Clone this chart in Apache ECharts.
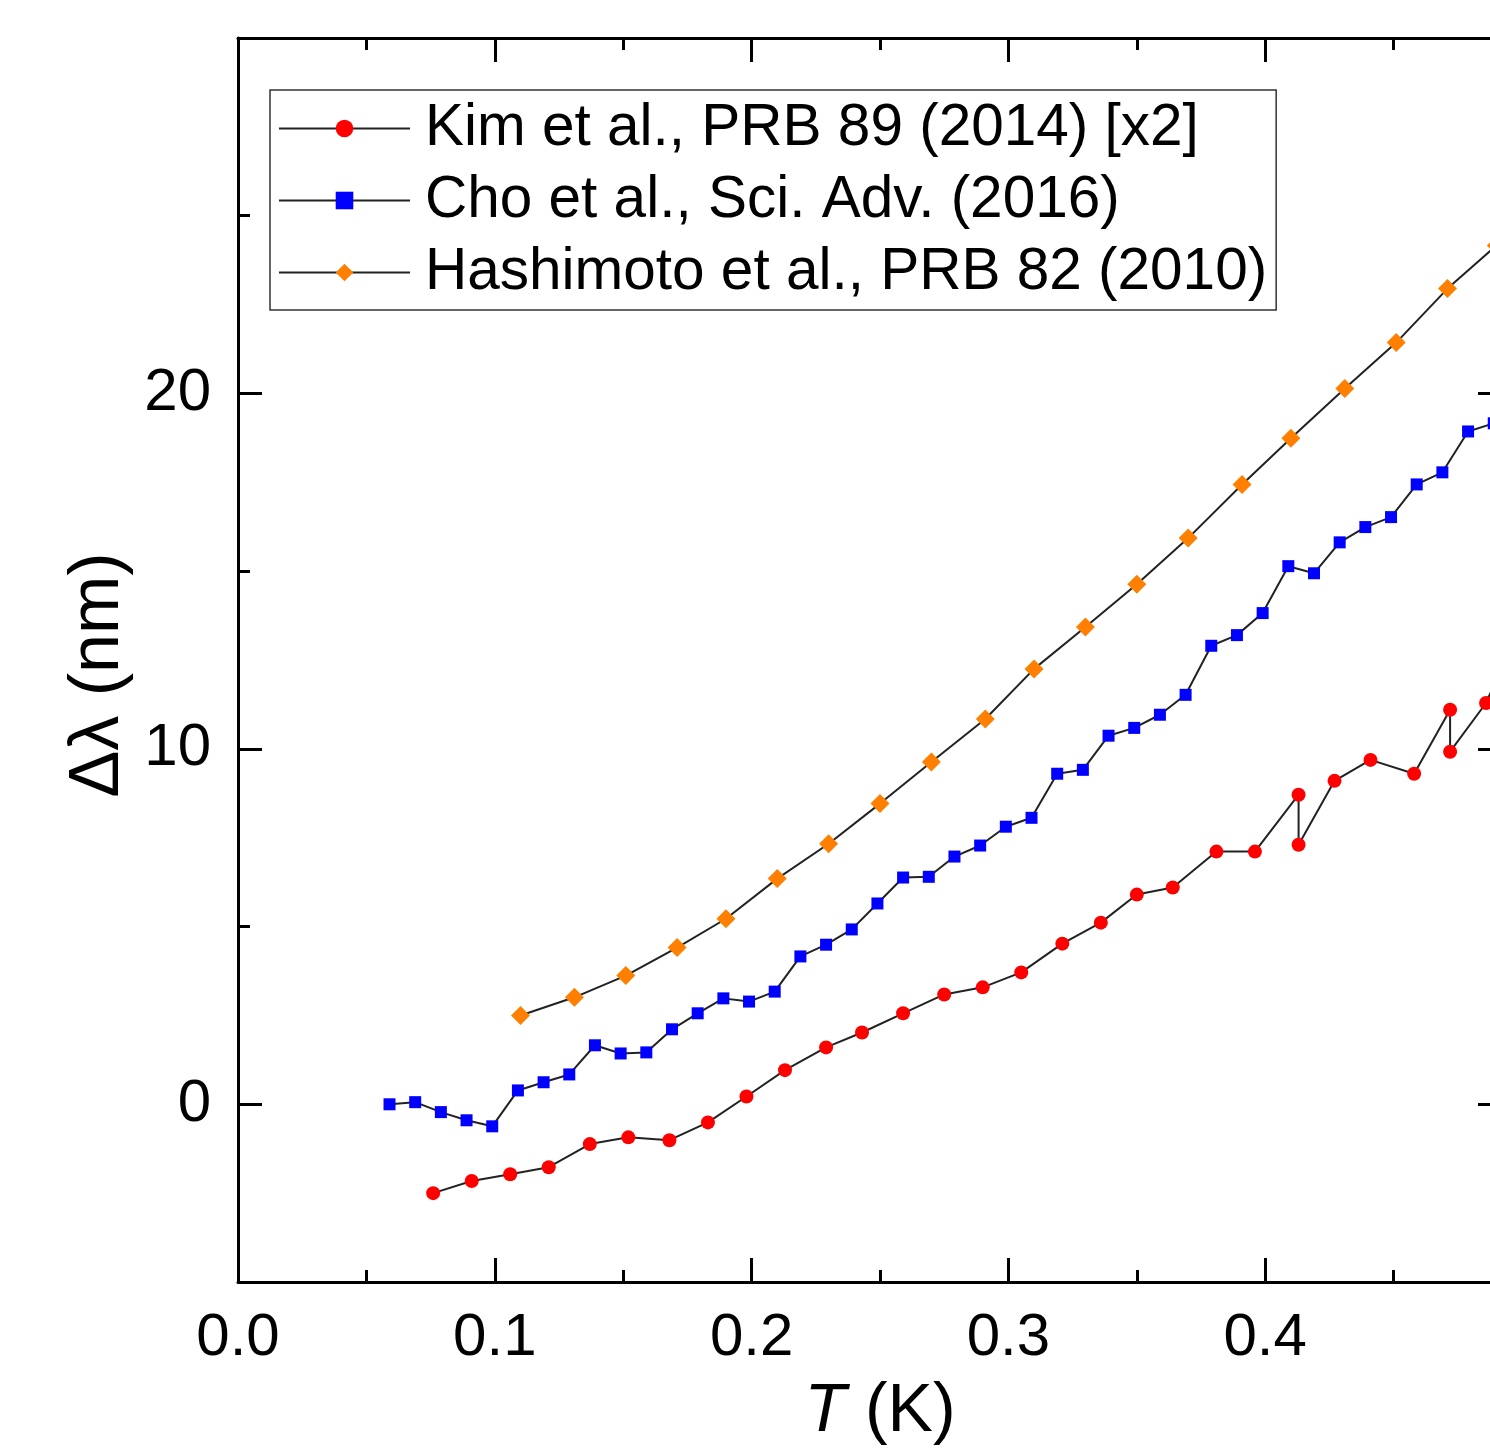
<!DOCTYPE html>
<html>
<head>
<meta charset="utf-8">
<script src="https://cdn.jsdelivr.net/npm/echarts@6/dist/echarts.min.js"></script>
<style>
  html, body { margin: 0; padding: 0; background: #fff; }
  #chart { width: 1490px; height: 1449px; }
</style>
</head>
<body>
<div id="chart"></div>
<script>
// Kim et al., PRB 89 (2014) [x2]
const kimT = [0.076, 0.091, 0.106, 0.121, 0.137, 0.152, 0.168, 0.183, 0.198, 0.213,
  0.229, 0.243, 0.259, 0.275, 0.290, 0.305, 0.321, 0.336, 0.350, 0.364,
  0.381, 0.396, 0.413, 0.413, 0.427, 0.441, 0.458, 0.472, 0.472, 0.486, 0.491]
const kimDL = [-2.50, -2.16, -1.97, -1.77, -1.12, -0.93, -1.01, -0.51, 0.22, 0.96,
  1.60, 2.02, 2.56, 3.09, 3.29, 3.71, 4.52, 5.11, 5.90, 6.10,
  7.11, 7.11, 8.71, 7.30, 9.10, 9.69, 9.30, 11.10, 9.92, 11.29, 12.11]

// Cho et al., Sci. Adv. (2016)
const choT = [0.059, 0.069, 0.079, 0.089, 0.099, 0.109, 0.119, 0.129, 0.139, 0.149,
  0.159, 0.169, 0.179, 0.189, 0.199, 0.209, 0.219, 0.229, 0.239, 0.249,
  0.259, 0.269, 0.279, 0.289, 0.299, 0.309, 0.319, 0.329, 0.339, 0.349,
  0.359, 0.369, 0.379, 0.389, 0.399, 0.409, 0.419, 0.429, 0.439, 0.449,
  0.459, 0.469, 0.479, 0.489]
const choDL = [0.00, 0.06, -0.22, -0.45, -0.62, 0.39, 0.62, 0.84, 1.66, 1.43,
  1.46, 2.11, 2.56, 2.98, 2.89, 3.17, 4.16, 4.49, 4.92, 5.65,
  6.38, 6.40, 6.97, 7.28, 7.81, 8.06, 9.30, 9.41, 10.37, 10.59,
  10.96, 11.52, 12.90, 13.20, 13.82, 15.14, 14.94, 15.81, 16.24, 16.52,
  17.44, 17.78, 18.93, 19.16]

// Hashimoto et al., PRB 82 (2010)
const hashT = [0.110, 0.131, 0.151, 0.171, 0.190, 0.210, 0.230, 0.250, 0.270, 0.291,
  0.310, 0.330, 0.350, 0.370, 0.391, 0.410, 0.431, 0.451, 0.471, 0.490]
const hashDL = [2.50, 3.01, 3.62, 4.41, 5.22, 6.35, 7.33, 8.46, 9.63, 10.84,
  12.25, 13.43, 14.63, 15.93, 17.44, 18.74, 20.14, 21.43, 22.95, 24.16]

// ticks and labels
const xLabels = [0, 0.1, 0.2, 0.3, 0.4]
const xMajorTicks = [0.1, 0.2, 0.3, 0.4]
const xMinorTicks = [0.05, 0.15, 0.25, 0.35, 0.45]
const yLabels = [0, 10, 20]
const yMajorTicks = [0, 10, 20]
const yMinorTicks = [5, 15, 25]

const font = 'Liberation Sans, Arial, sans-serif'
const zip = (xs, ys) => xs.map((x, i) => [x, ys[i]])

// one axis = line + inward ticks (+ labels on the primary one)
function axis(dir, position, ticks, len, showLine, extra) {
  const range = dir === 'x' ? { min: 0, max: 0.5 } : { min: -5, max: 30 }
  return Object.assign({
    type: 'value',
    position: position,
    ...range,
    axisLine: { show: showLine, onZero: false, lineStyle: { color: '#000', width: 3 } },
    axisTick: {
      show: true,
      inside: true,
      length: len,
      customValues: ticks,
      lineStyle: { color: '#000', width: 3 }
    },
    axisLabel: { show: false },
    splitLine: { show: false }
  }, extra || {})
}

const chart = echarts.init(document.getElementById('chart'))
const option = {
  animation: false,
  backgroundColor: '#fff',
  grid: {
    left: 238,
    top: 38,
    width: 1284,
    height: 1244,
    containLabel: false,
    outerBoundsMode: 'none'
  },
  legend: {
    left: 270,
    top: 90,
    orient: 'vertical',
    backgroundColor: '#fff',
    borderColor: '#333',
    borderWidth: 1.5,
    borderRadius: 0,
    padding: [9, 9, 8, 8],
    itemWidth: 131,
    itemHeight: 22,
    itemGap: 13,
    lineStyle: { color: '#222', width: 2 },
    textStyle: {
      fontFamily: font,
      fontSize: 58.5,
      lineHeight: 57,
      color: '#000',
      padding: [0, 0, 0, 10]
    },
    data: ['Kim et al., PRB 89 (2014) [x2]', 'Cho et al., Sci. Adv. (2016)', 'Hashimoto et al., PRB 82 (2010)']
  },
  xAxis: [
    axis('x', 'bottom', xMajorTicks, 24, true, {
      axisLabel: {
        show: true,
        customValues: xLabels,
        formatter: v => v.toFixed(1),
        fontFamily: font,
        fontSize: 60,
        color: '#000',
        margin: 26
      },
      name: '{i|T} (K)',
      nameLocation: 'middle',
      nameGap: 96,
      nameMoveOverlap: false,
      nameTextStyle: {
        fontFamily: font,
        fontSize: 68,
        color: '#000',
        rich: { i: { fontFamily: font, fontSize: 68, fontStyle: 'italic', color: '#000' } }
      }
    }),
    axis('x', 'bottom', xMinorTicks, 12, false),
    axis('x', 'top', xMajorTicks, 24, true),
    axis('x', 'top', xMinorTicks, 12, false)
  ],
  yAxis: [
    axis('y', 'left', yMajorTicks, 24, true, {
      axisLabel: {
        show: true,
        customValues: yLabels,
        fontFamily: font,
        fontSize: 60,
        color: '#000',
        margin: 27
      },
      name: 'Δλ (nm)',
      nameLocation: 'middle',
      nameGap: 104,
      nameMoveOverlap: false,
      nameTextStyle: { fontFamily: font, fontSize: 70, color: '#000', padding: [0, 30, 0, 0] }
    }),
    axis('y', 'left', yMinorTicks, 12, false),
    axis('y', 'right', yMajorTicks, 24, true, { offset: -20 }),
    axis('y', 'right', yMinorTicks, 12, false, { offset: -20 })
  ],
  series: [
    {
      name: 'Kim et al., PRB 89 (2014) [x2]',
      type: 'line',
      data: zip(kimT, kimDL),
      symbol: 'circle',
      symbolSize: 14,
      showAllSymbol: true,
      itemStyle: { color: '#FF0000' },
      lineStyle: { color: '#222', width: 2 }
    },
    {
      name: 'Cho et al., Sci. Adv. (2016)',
      type: 'line',
      data: zip(choT, choDL),
      symbol: 'rect',
      symbolSize: 12,
      showAllSymbol: true,
      itemStyle: { color: '#0000FF' },
      lineStyle: { color: '#222', width: 2 }
    },
    {
      name: 'Hashimoto et al., PRB 82 (2010)',
      type: 'line',
      data: zip(hashT, hashDL),
      symbol: 'diamond',
      symbolSize: 19,
      showAllSymbol: true,
      itemStyle: { color: '#FF8000' },
      lineStyle: { color: '#222', width: 2 }
    }
  ]
}
chart.setOption(option)
</script>
</body>
</html>
